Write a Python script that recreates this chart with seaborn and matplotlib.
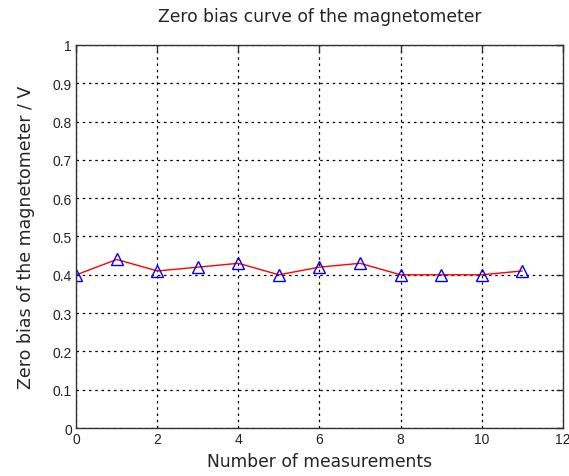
import pandas as pd
import seaborn as sns
import matplotlib.pyplot as plt
import numpy as np

# measurement index and zero bias readings (V)
measurements = [0, 1, 2, 3, 4, 5, 6, 7, 8, 9, 10, 11]
zero_bias = [0.40, 0.44, 0.41, 0.42, 0.43, 0.40, 0.42, 0.43, 0.40, 0.40, 0.40, 0.41]

x_ticks = [0, 2, 4, 6, 8, 10, 12]
y_ticks = [0, 0.1, 0.2, 0.3, 0.4, 0.5, 0.6, 0.7, 0.8, 0.9, 1]
y_ticklabels = ['0', '0.1', '0.2', '0.3', '0.4', '0.5', '0.6', '0.7', '0.8', '0.9', '1']

df = pd.DataFrame({'n': measurements, 'bias': zero_bias})

sns.set_style('white')
plt.rcParams['font.family'] = ['DejaVu Sans']

fig = plt.figure(figsize=(5.69, 4.77), dpi=100)
ax = fig.add_axes([0.134, 0.1006, 0.855, 0.803])

sns.lineplot(data=df, x='n', y='bias', ax=ax, color='red', linewidth=1,
             marker='^', markersize=8, markerfacecolor='none',
             markeredgecolor='blue', markeredgewidth=1)

ax.set_xlim(0, 12)
ax.set_ylim(0, 1)
ax.set_xticks(x_ticks)
ax.set_yticks(y_ticks)
ax.set_yticklabels(y_ticklabels)
for lab in ax.get_xticklabels() + ax.get_yticklabels():
    lab.set_family('Liberation Sans')
    lab.set_fontsize(10)
    lab.set_color('#222222')

ax.grid(True, color='black', linestyle=(0, (2, 3)), linewidth=0.9)
ax.tick_params(direction='in', length=5, width=1, top=True, right=True,
               color='#333333', pad=3)
for s in ax.spines.values():
    s.set_color('#333333')
    s.set_linewidth(1)

ax.set_xlabel('Number of measurements', fontsize=12.3, labelpad=4)
ax.set_ylabel('Zero bias of the magnetometer / V', fontsize=12.5, labelpad=13)
ax.set_title('Zero bias curve of the magnetometer', fontsize=12.3, pad=17)

plt.savefig('out.png', dpi=100)
